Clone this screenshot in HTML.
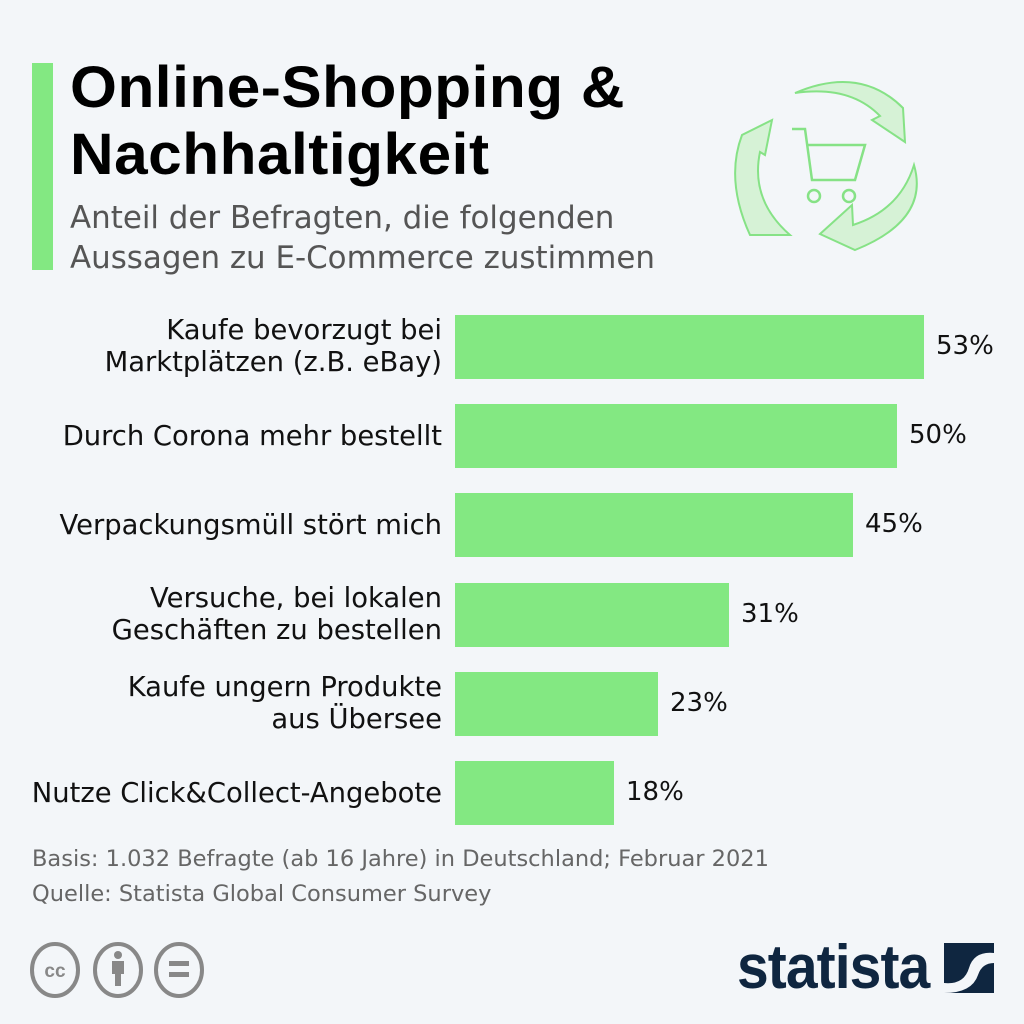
<!DOCTYPE html>
<html><head><meta charset="utf-8"><style>
body{margin:0;width:1024px;height:1024px;background:#f3f6f9;font-family:"DejaVu Sans","Liberation Sans",sans-serif;position:relative;overflow:hidden}
.a{position:absolute}
.t{left:70px;top:54px;font-size:58px;font-weight:bold;line-height:67px;color:#000;font-family:"Liberation Sans",sans-serif;transform:scaleX(1.04);transform-origin:left;letter-spacing:0.5px}
.s{left:70px;top:198px;font-size:30.9px;line-height:40px;color:#555}
.l{right:582px;font-size:27.4px;line-height:32px;color:#111;text-align:right;white-space:nowrap}
.b{left:455px;height:64px;background:#83e882}
.v{font-size:26px;color:#111}
.f{left:32px;font-size:22.5px;color:#666;white-space:nowrap}
</style></head><body>
<div class="a" style="left:32px;top:63px;width:21px;height:207px;background:#83e882"></div>
<div class="a t">Online-Shopping &amp;<br>Nachhaltigkeit</div>
<div class="a s">Anteil der Befragten, die folgenden<br>Aussagen zu E-Commerce zustimmen</div>
<svg class="a" style="left:720px;top:60px" width="220" height="220" viewBox="0 0 220 220">
<g fill="#d6f2d6" stroke="#86e286" stroke-width="2">
<path d="M75 33 Q140 5 183 48 L185 82 L152 60 L160 56 Q130 25 75 33Z"/>
<path d="M30 175 Q5 120 22 75 L52 60 L45 95 L40 92 Q30 140 70 175Z"/>
<path d="M194 105 Q210 160 135 190 L100 174 L132 145 L133 165 Q180 150 194 105Z"/>
</g>
<g fill="none" stroke="#86e286" stroke-width="2.5">
<path d="M72 69 H85 L92 120 H135 L145 85 H88"/>
<circle cx="94" cy="136" r="6"/><circle cx="129" cy="136" r="6"/>
</g></svg>
<div class="a l" style="top:315px">Kaufe bevorzugt bei<br>Marktplätzen (z.B. eBay)</div>
<div class="a l" style="top:421px">Durch Corona mehr bestellt</div>
<div class="a l" style="top:510px">Verpackungsmüll stört mich</div>
<div class="a l" style="top:583px">Versuche, bei lokalen<br>Geschäften zu bestellen</div>
<div class="a l" style="top:672px">Kaufe ungern Produkte<br>aus Übersee</div>
<div class="a l" style="top:778px">Nutze Click&amp;Collect-Angebote</div>
<div class="a b" style="top:315px;width:469px"></div>
<div class="a b" style="top:404px;width:442px"></div>
<div class="a b" style="top:493px;width:398px"></div>
<div class="a b" style="top:583px;width:274px"></div>
<div class="a b" style="top:672px;width:203px"></div>
<div class="a b" style="top:761px;width:159px"></div>
<div class="a v" style="left:936px;top:331px">53%</div>
<div class="a v" style="left:909px;top:420px">50%</div>
<div class="a v" style="left:865px;top:509px">45%</div>
<div class="a v" style="left:741px;top:599px">31%</div>
<div class="a v" style="left:670px;top:688px">23%</div>
<div class="a v" style="left:626px;top:777px">18%</div>
<div class="a f" style="top:846px">Basis: 1.032 Befragte (ab 16 Jahre) in Deutschland; Februar 2021</div>
<div class="a f" style="top:881px">Quelle: Statista Global Consumer Survey</div>
<svg class="a" style="left:28px;top:940px" width="190" height="60">
<g fill="none" stroke="#888" stroke-width="4">
<ellipse cx="27" cy="30" rx="23" ry="26"/><ellipse cx="90" cy="30" rx="23" ry="26"/><ellipse cx="151" cy="30" rx="23" ry="26"/></g>
<text x="27" y="37" font-size="19" font-weight="bold" fill="#888" text-anchor="middle" font-family="Liberation Sans">cc</text>
<circle cx="90" cy="15" r="4" fill="#888"/><rect x="84" y="21" width="12" height="13" fill="#888"/><rect x="87" y="30" width="6" height="16" fill="#888"/>
<rect x="141" y="21" width="20" height="5" fill="#888"/><rect x="141" y="32" width="20" height="5" fill="#888"/>
</svg>
<div class="a" style="left:737px;top:932px;font-size:62px;font-weight:bold;color:#0f2640;font-family:'Liberation Sans Narrow','Liberation Sans',sans-serif;letter-spacing:-1px;transform:scaleX(0.92);transform-origin:left">statista</div>
<svg class="a" style="left:944px;top:943px" width="50" height="50"><rect width="50" height="50" fill="#0f2640"/><path d="M0 40 Q20 42 25 25 Q30 8 50 10 V20 Q38 20 34 32 Q28 50 0 50Z" fill="#f3f6f9"/></svg>
</body></html>
